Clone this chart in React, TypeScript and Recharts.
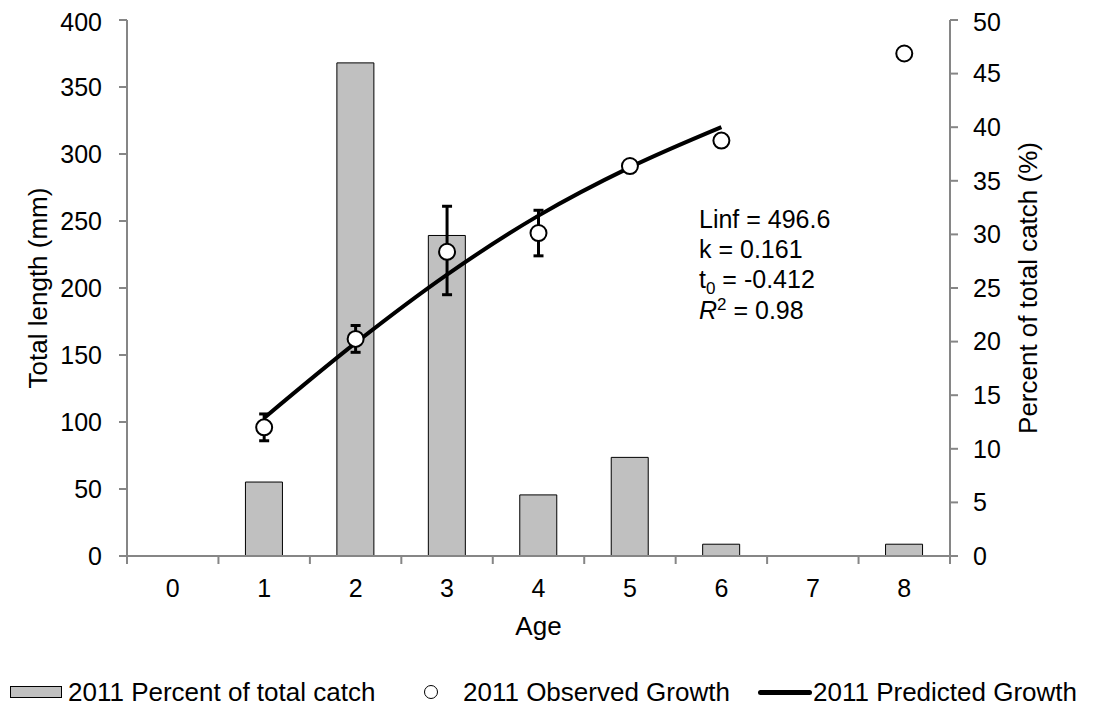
import React from "react";
import {
  Bar,
  ComposedChart,
  Customized,
  ErrorBar,
  Legend,
  Line,
  XAxis,
  YAxis,
} from "recharts";

const ages = ["0", "1", "2", "3", "4", "5", "6", "7", "8"];
const percentCatch = [0, 6.9, 46.0, 29.9, 5.7, 9.2, 1.1, 0, 1.1];
const observedLength = [null, 96, 162, 227, 241, 291, 310, null, 375];
// [below, above] the observed mean
const observedError = [null, [10, 10], [10, 10], [32, 34], [17, 17], null, null, null, null];
const predictedLength = [null, 103, 159, 210, 254, 290, 320, null, null];

const lengthTicks = [0, 50, 100, 150, 200, 250, 300, 350, 400];
const percentTicks = [0, 5, 10, 15, 20, 25, 30, 35, 40, 45, 50];

const FONT = '"Liberation Sans", Arial, sans-serif';
const AXIS = "#868686";

const data = ages.map((age, i) => ({
  age,
  percent: percentCatch[i],
  observed: observedLength[i],
  error: observedError[i],
  predicted: predictedLength[i],
}));

// category labels centred, tick marks on the boundaries between ages
const AgeTick = (props: any) => {
  const { x, y, payload, index, visibleTicksCount, width } = props;
  const half = payload.offset ?? width / visibleTicksCount / 2;
  return (
    <g>
      <line x1={x - half} x2={x - half} y1={y} y2={y + 8} stroke={AXIS} strokeWidth={2} />
      {index === visibleTicksCount - 1 && (
        <line x1={x + half} x2={x + half} y1={y} y2={y + 8} stroke={AXIS} strokeWidth={2} />
      )}
      <text x={x} y={y + 41} textAnchor="middle" fontSize={25} fontFamily={FONT} fill="#000">
        {payload.value}
      </text>
    </g>
  );
};

const FitStats = () => (
  <g fontFamily={FONT} fontSize={25} fill="#000">
    <text x={691} y={220}>Linf = 496.6</text>
    <text x={691} y={250}>k = 0.161</text>
    <text x={691} y={280}>
      t<tspan fontSize={17} dy={6}>0</tspan>
      <tspan dy={-6}> = -0.412</tspan>
    </text>
    <text x={691} y={311}>
      <tspan fontStyle="italic">R</tspan>
      <tspan fontSize={17} dy={-9}>2</tspan>
      <tspan dy={9}> = 0.98</tspan>
    </text>
  </g>
);

const SeriesLegend = () => (
  <div
    style={{
      position: "relative",
      width: 1090,
      height: 30,
      fontFamily: FONT,
      fontSize: 26,
      color: "#000",
      whiteSpace: "nowrap",
    }}
  >
    <span
      style={{
        position: "absolute",
        left: 2,
        top: 9,
        width: 52,
        height: 12,
        background: "#c0c0c0",
        border: "1px solid #000",
        boxSizing: "border-box",
      }}
    />
    <span style={{ position: "absolute", left: 60, top: 0, lineHeight: "30px" }}>
      2011 Percent of total catch
    </span>
    <span
      style={{
        position: "absolute",
        left: 416,
        top: 8,
        width: 14,
        height: 14,
        borderRadius: "50%",
        border: "1.5px solid #000",
        background: "#fff",
        boxSizing: "border-box",
      }}
    />
    <span style={{ position: "absolute", left: 455, top: 0, lineHeight: "30px" }}>
      2011 Observed Growth
    </span>
    <span
      style={{
        position: "absolute",
        left: 750,
        top: 13,
        width: 54,
        height: 5,
        borderRadius: 3,
        background: "#000",
      }}
    />
    <span style={{ position: "absolute", left: 805, top: 0, lineHeight: "30px" }}>
      2011 Predicted Growth
    </span>
  </div>
);

export default function App() {
  return (
    <div style={{ width: 1090, height: 699, fontFamily: FONT }}>
      <ComposedChart
        width={1090}
        height={699}
        data={data}
        margin={{ top: 12, right: 0, bottom: 0, left: 0 }}
      >
        <XAxis
          dataKey="age"
          interval={0}
          height={121}
          tickLine={false}
          tickSize={0}
          tickMargin={0}
          axisLine={{ stroke: AXIS, strokeWidth: 2 }}
          tick={<AgeTick />}
          label={{ value: "Age", position: "insideTop", offset: 61, fontSize: 26, fill: "#000" }}
        />
        <YAxis
          yAxisId="len"
          type="number"
          domain={[0, 400]}
          ticks={lengthTicks}
          width={119}
          tickSize={8}
          tickMargin={17}
          axisLine={{ stroke: AXIS, strokeWidth: 2 }}
          tickLine={{ stroke: AXIS, strokeWidth: 2 }}
          tick={{ fill: "#000", fontSize: 25 }}
          label={{
            value: "Total length (mm)",
            angle: -90,
            position: "center",
            dx: -30,
            fontSize: 26,
            fill: "#000",
          }}
        />
        <YAxis
          yAxisId="pct"
          orientation="right"
          type="number"
          domain={[0, 50]}
          ticks={percentTicks}
          width={148}
          tickSize={8}
          tickMargin={15}
          axisLine={{ stroke: AXIS, strokeWidth: 2 }}
          tickLine={{ stroke: AXIS, strokeWidth: 2 }}
          tick={{ fill: "#000", fontSize: 25 }}
          label={{
            value: "Percent of total catch (%)",
            angle: -90,
            position: "center",
            dx: 4,
            fontSize: 26,
            fill: "#000",
          }}
        />
        <Bar
          yAxisId="pct"
          dataKey="percent"
          name="2011 Percent of total catch"
          barSize={37}
          fill="#c0c0c0"
          stroke="#000"
          strokeWidth={1}
          isAnimationActive={false}
        />
        <Line
          yAxisId="len"
          type="monotone"
          dataKey="predicted"
          name="2011 Predicted Growth"
          stroke="#000"
          strokeWidth={4}
          dot={false}
          activeDot={false}
          isAnimationActive={false}
        />
        <Line
          yAxisId="len"
          dataKey="observed"
          name="2011 Observed Growth"
          stroke="none"
          dot={{ r: 8, fill: "#fff", stroke: "#000", strokeWidth: 2 }}
          activeDot={false}
          isAnimationActive={false}
        >
          <ErrorBar dataKey="error" direction="y" width={5} stroke="#000" strokeWidth={3} />
        </Line>
        <Customized component={FitStats} />
        <Legend
          verticalAlign="bottom"
          align="left"
          content={SeriesLegend}
          wrapperStyle={{ left: 0, bottom: 0, width: 1090, height: 30 }}
        />
      </ComposedChart>
    </div>
  );
}
